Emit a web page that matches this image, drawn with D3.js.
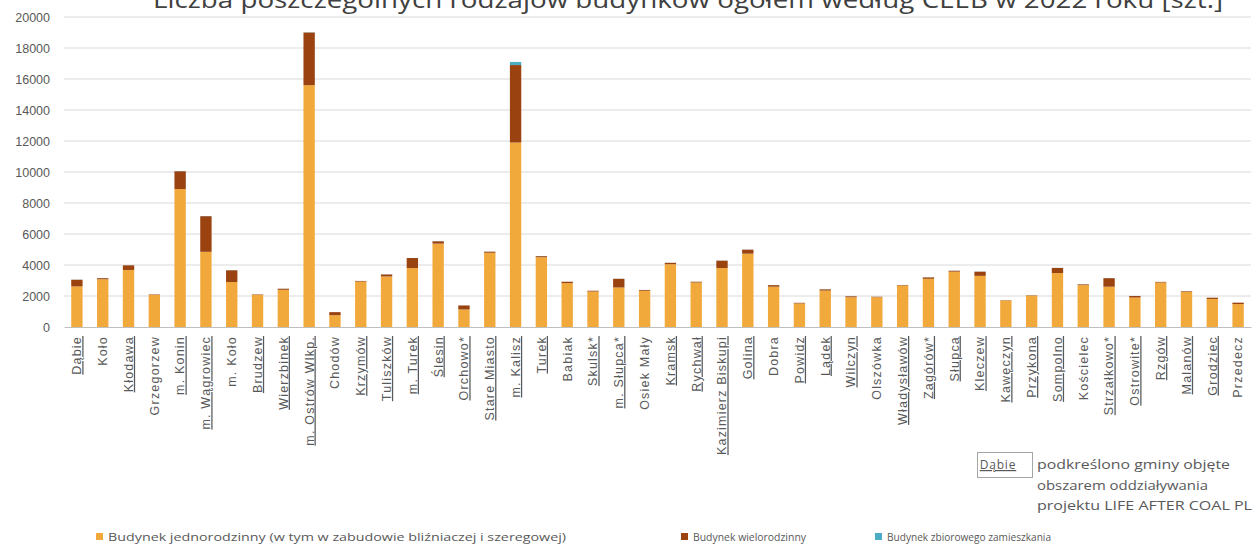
<!DOCTYPE html>
<html><head><meta charset="utf-8">
<script src="https://cdn.jsdelivr.net/npm/d3@7"></script>
<style>body{margin:0;background:#fff;} svg{display:block;font-family:"Open Sans","Liberation Sans",sans-serif;}</style>
</head><body><svg id="c" width="1254" height="549"></svg>
<script>
const categories = ["Dąbie","Koło","Kłodawa","Grzegorzew","m. Konin","m. Wągrowiec","m. Koło","Brudzew","Wierzbinek","m. Ostrów Wlkp.","Chodów","Krzymów","Tuliszków","m. Turek","Ślesin","Orchowo*","Stare Miasto","m. Kalisz","Turek","Babiak","Skulsk*","m. Słupca*","Osiek Mały","Kramsk","Rychwał","Kazimierz Biskupi","Golina","Dobra","Powidz","Lądek","Wilczyn","Olszówka","Władysławów","Zagórów*","Słupca","Kleczew","Kawęczyn","Przykona","Sompolno","Kościelec","Strzałkowo*","Ostrowite*","Rzgów","Malanów","Grodziec","Przedecz"];
const underlined = [true,false,true,false,true,true,false,true,true,true,false,true,true,true,true,true,true,true,true,false,true,true,false,true,true,true,true,false,true,true,true,false,true,true,true,true,true,true,true,false,true,true,true,true,true,false];
const singleFamily = [2620,3080,3680,2070,8900,4850,2900,2070,2400,15600,760,2930,3260,3800,5380,1130,4790,11900,4500,2830,2290,2550,2340,4050,2870,3800,4730,2600,1520,2350,1920,1920,2680,3110,3570,3300,1710,2030,3480,2700,2600,1900,2870,2270,1810,1480];
const multiFamily = [430,70,300,30,1150,2300,760,30,70,3400,200,40,130,650,150,260,70,5000,70,90,50,560,50,90,50,480,260,100,40,80,60,30,30,90,60,270,20,20,330,50,550,100,40,40,80,90];
const collective = [5,5,5,2,10,10,5,2,2,10,2,2,5,5,5,2,5,200,5,2,2,5,2,5,2,5,5,2,2,2,2,2,2,5,5,5,2,2,5,2,5,2,2,2,2,2];
const yTicks = [0,2000,4000,6000,8000,10000,12000,14000,16000,18000,20000];
const seriesNames = ["Budynek jednorodzinny (w tym w zabudowie bliźniaczej i szeregowej)","Budynek wielorodzinny","Budynek zbiorowego zamieszkania"];
const colors = ["#F2A93B","#9A4310","#4BACC6"];
const title = "Liczba poszczególnych rodzajów budynków ogółem według CEEB w 2022 roku [szt.]";
const noteLines = ["podkreślono gminy objęte","obszarem oddziaływania","projektu LIFE AFTER COAL PL"];

const svg = d3.select("#c");
const mL = 64, mR = 1251, mT = 17, mB = 327;
const x = d3.scaleBand().domain(categories).range([mL, mR]).paddingInner(0.56).paddingOuter(0.28);
const y = d3.scaleLinear().domain([0, 20000]).range([mB, mT]);

// title
svg.append("text").attr("x", 688).attr("y", 8).attr("text-anchor","middle")
  .attr("font-size", 24).attr("fill","#404040").attr("textLength", 1070).attr("lengthAdjust","spacingAndGlyphs")
  .text(title);

// gridlines
svg.append("g").selectAll("line").data(yTicks.slice(1)).join("line")
  .attr("x1", mL).attr("x2", mR).attr("y1", d => y(d)).attr("y2", d => y(d))
  .attr("stroke", "#d9d9d9").attr("stroke-width", 1);

// y axis labels
const yAxis = d3.axisLeft(y).tickValues(yTicks).tickSize(0).tickPadding(14).tickFormat(d3.format("d"));
const ga = svg.append("g").attr("transform", `translate(${mL},0)`).call(yAxis);
ga.select(".domain").remove();
ga.selectAll("text").attr("font-size", 12.5).attr("fill", "#595959").attr("font-family","'Liberation Sans',sans-serif");

// stacked data
const rows = categories.map((c,i) => ({cat:c, s0:singleFamily[i], s1:multiFamily[i], s2:collective[i]}));
const stack = d3.stack().keys(["s0","s1","s2"])(rows);
svg.append("g").selectAll("g").data(stack).join("g").attr("fill", (d,i) => colors[i])
  .selectAll("rect").data(d => d).join("rect")
  .attr("x", d => x(d.data.cat)).attr("width", x.bandwidth())
  .attr("y", d => y(d[1])).attr("height", d => y(d[0]) - y(d[1]));

// x axis
const xAxis = d3.axisBottom(x).tickSize(0).tickPadding(0);
const gx = svg.append("g").attr("transform", `translate(0,${mB})`).call(xAxis);
gx.select(".domain").attr("stroke", "#bfbfbf");
gx.selectAll("text")
  .attr("transform", "rotate(-90)")
  .attr("text-anchor", "end").attr("dy", "0.35em").attr("x", -9).attr("y", 0)
  .attr("font-size", 12.5).attr("letter-spacing", 1.2).attr("fill", "#595959").attr("font-family","'Liberation Sans',sans-serif")
  .style("text-decoration", (d,i) => underlined[i] ? "underline" : "none");

// annotation box
const ann = svg.append("g");
ann.append("rect").attr("x", 977.5).attr("y", 452.5).attr("width", 55).attr("height", 25)
  .attr("fill","none").attr("stroke","#a6a6a6");
ann.append("text").attr("x", 998).attr("y", 469).attr("text-anchor","middle").attr("font-size", 12)
  .attr("fill","#595959").attr("letter-spacing", 0.8).style("text-decoration","underline").text("Dąbie");
const noteW = [193, 171, 215];
noteLines.forEach((t,i) => {
  ann.append("text").attr("x", 1037).attr("y", 469 + i*20.5).attr("font-size", 12.5).attr("fill","#595959")
    .attr("textLength", noteW[i]).attr("lengthAdjust","spacingAndGlyphs").text(t);
});

// legend
const legX = [96, 681, 875];
const legW = [458, 113, 164];
const lg = svg.append("g");
seriesNames.forEach((n,i) => {
  lg.append("rect").attr("x", legX[i]).attr("y", 533).attr("width", 7).attr("height", 7).attr("fill", colors[i]);
  lg.append("text").attr("x", legX[i] + 12).attr("y", 541).attr("font-size", 11.5).attr("fill","#595959")
    .attr("textLength", legW[i]).attr("lengthAdjust","spacingAndGlyphs").text(n);
});
</script></body></html>
